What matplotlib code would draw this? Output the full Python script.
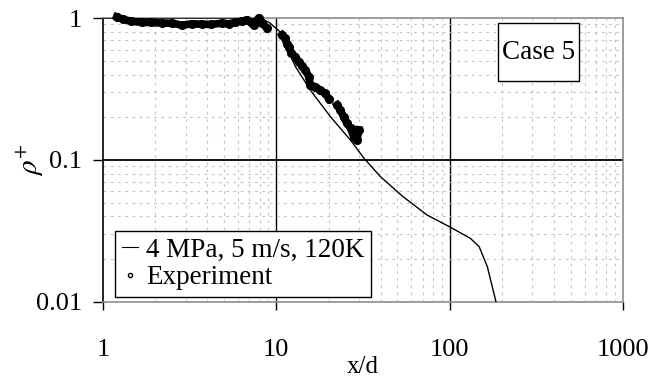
import numpy as np
import matplotlib
matplotlib.use("Agg")
import matplotlib.pyplot as plt
from matplotlib.lines import Line2D
from matplotlib.patches import Rectangle

plt.rcParams['font.family'] = ['Liberation Serif', 'DejaVu Serif']
plt.rcParams['mathtext.fontset'] = 'stix'

# model curve (4 MPa, 5 m/s, 120K)
model_x = [1, 3, 6, 7.5, 8.5, 9.2, 10.5, 12.9, 15.7, 20.5, 26.8, 32, 40, 54, 74, 101, 132, 148, 165, 187]
model_y = [1, 1, 1, 0.995, 0.97, 0.92, 0.80, 0.454, 0.311, 0.202, 0.138, 0.103, 0.076, 0.055,
           0.041, 0.0336, 0.028, 0.0245, 0.0177, 0.0095]

# experiment (nan separates the measured segments)
exp_x = [1.2, 1.3, 1.45, 1.67, 1.9, 2.18, 2.5, 2.85, 3.25, 3.71, 4.2, 4.85, 5.3, 5.8, 6.3, 6.76,
         7.1, 7.4, 7.9, 8.3, 8.8, np.nan,
         10.8, 11.2, 11.5, 11.8, 12.2, 12.9, 13.5, 14.1, 14.7, 15.4, 15.7, 16.8, 17.9, 19.1, 20.1, np.nan,
         22.4, 23.4, 24.5, 25.6, 26.8, 28.0, 29.2, 29.9]
exp_y = [1.02, 0.98, 0.95, 0.93, 0.93, 0.92, 0.92, 0.89, 0.91, 0.905, 0.90, 0.92, 0.91, 0.93, 0.95,
         0.97, 0.93, 0.89, 1.0, 0.92, 0.85, np.nan,
         0.76, 0.72, 0.66, 0.62, 0.57, 0.53, 0.49, 0.46, 0.43, 0.386, 0.337, 0.328, 0.31, 0.295, 0.27, np.nan,
         0.244, 0.225, 0.20, 0.181, 0.167, 0.146, 0.138, 0.163]

x_ticks = [1, 10, 100, 1000]
x_labels = ['1', '10', '100', '1000']
y_ticks = [0.01, 0.1, 1]
y_labels = ['0.01', '0.1', '1']

fig = plt.figure(figsize=(6.51, 3.79), dpi=100)
ax = fig.add_axes([0.1582, 0.2032, 0.7988, 0.7493])

ax.set_xscale('log')
ax.set_yscale('log')
ax.set_xlim(1, 1000)
ax.set_ylim(0.01, 1)

# grids
ax.set_xticks(x_ticks)
ax.set_xticklabels(x_labels)
ax.set_yticks(y_ticks)
ax.set_yticklabels(y_labels)
ax.minorticks_on()
ax.grid(which='minor', color='#c4c4c4', linestyle=(0, (2.5, 4)), linewidth=0.8)
for v in [10, 100]:
    ax.axvline(v, color='black', lw=1.0, zorder=1)
ax.axhline(0.1, color='black', lw=1.3, zorder=1)

ax.tick_params(which='minor', length=0)
ax.tick_params(axis='x', which='major', direction='out', length=6, width=1, pad=21,
               labelsize=19, top=False)
ax.tick_params(axis='y', which='major', direction='out', length=7, width=1, pad=8,
               labelsize=19, right=False)

for s in ['top', 'right', 'bottom']:
    ax.spines[s].set_color('#8c8c8c')
    ax.spines[s].set_linewidth(1.2)
ax.spines['left'].set_color('black')
ax.spines['left'].set_linewidth(1.2)

ax.plot(model_x, model_y, color='black', lw=1.0, zorder=3)
ax.plot(exp_x, exp_y, color='black', lw=5.5, marker='o', ms=5.5, zorder=4, clip_on=False)

ax.set_xlabel('x/d', fontsize=18, labelpad=-4)
ax.set_ylabel(r'$\rho^{+}$', fontsize=21, labelpad=-8)

# case label
ax.add_patch(Rectangle((0.7596, 0.778), 0.1558, 0.2044, transform=ax.transAxes,
                       facecolor='white', edgecolor='black', lw=1.0, zorder=5))
ax.text(0.8375, 0.88, 'Case 5', transform=ax.transAxes, ha='center', va='center',
        fontsize=19.5, zorder=6)

handles = [Line2D([], [], color='black', lw=0.8),
           Line2D([], [], color='black', ls='none', marker='o', ms=3, mfc='white', mew=1)]
leg = ax.legend(handles, ['4 MPa, 5 m/s, 120K', 'Experiment'], loc='lower left',
                bbox_to_anchor=(0.023, 0.0176), borderaxespad=0, fontsize=19.5,
                frameon=True, fancybox=False, edgecolor='black', framealpha=1,
                handlelength=0.6, handletextpad=0.3, borderpad=0.25, labelspacing=0.1)
leg.get_frame().set_linewidth(1.0)
leg.set_zorder(6)

fig.savefig('out.png', dpi=100)
